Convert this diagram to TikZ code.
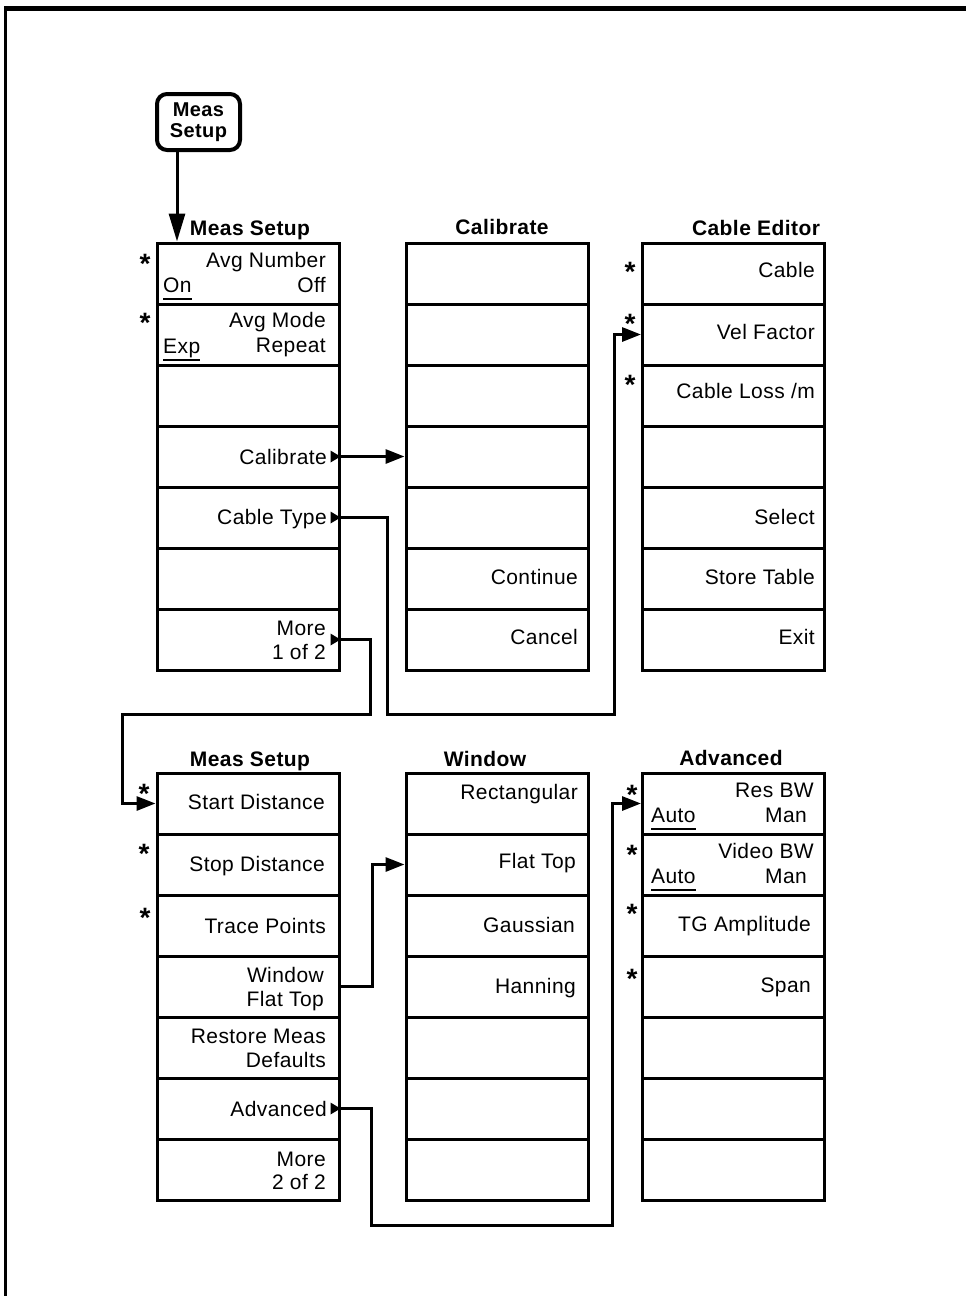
\documentclass[tikz,border=0pt]{standalone}
\usepackage{fontspec}
\setmainfont[LetterSpace=2]{Liberation Sans}
\usepackage{tikz}
\usetikzlibrary{arrows.meta, calc, positioning}
\def\keyWidth{182pt}
\def\keyHeight{61}

\begin{document}
\begin{tikzpicture}[x=1pt, y=-1pt,
    softkey/.style={draw, line width=3pt, minimum width=\keyWidth, minimum height=\keyHeight pt, inner sep=0pt},
    hardkey/.style={draw, line width=4pt, rounded corners=10pt, minimum width=83pt, minimum height=56pt,
        align=center, font=\bfseries\fontsize{20}{21}\selectfont},
    label/.style={inner sep=0pt, text height=15pt, text depth=0pt, font=\fontsize{21}{24}\selectfont},
    title/.style={label, font=\bfseries\fontsize{21}{24}\selectfont},
    starmark/.style={inner sep=0pt, anchor=base, yshift=-16pt, font=\bfseries\fontsize{28}{28}\selectfont},
    wire/.style={line width=3pt},
    link/.style={wire, -{Triangle[length=19pt, width=14pt]}},
    keylink/.style={wire, -{Triangle[length=28pt, width=16pt]}},
    uline/.style={line width=2pt}]

    \useasboundingbox (0,0) rectangle (966,1296);

    % Draw page frame
    \draw[line width=3.5pt] (5.5,1296) -- (5.5,6);
    \draw[line width=5pt] (4,8.5) -- (966,8.5);

    % Draw hardkey
    \node[hardkey] (measKey) at (198.5,122) {Meas\\Setup};

    % Draw softkey columns
    \foreach \col/\cx/\top in {ms/248/243, cal/497/243, ced/733.5/243, msb/248/773, win/497/773, adv/733.5/773} {
        \foreach \i in {1,...,7} {
            \node[softkey] (\col\i) at (\cx, {\top + \keyHeight*(\i - 0.5)}) {};
        }
    }

    % Draw menu titles
    \node[title] (msTitle) at (250,228) {Meas Setup};
    \node[title] (calTitle) at (502,227) {Calibrate};
    \node[title] (cedTitle) at (756,228) {Cable Editor};
    \node[title] (msbTitle) at (250,759) {Meas Setup};
    \node[title] (winTitle) at (485,759) {Window};
    \node[title] (advTitle) at (731,758) {Advanced};

    % Draw right aligned labels
    \foreach \x/\y/\txt [count=\n] in {
        326/260/Avg Number, 326/285/Off, 326/320/Avg Mode, 326/345/Repeat,
        327/457/Calibrate, 327/517/Cable Type, 326/628/More, 326/652/1 of 2,
        578/577/Continue, 578/637/Cancel,
        815/270/Cable, 815/332/Vel Factor, 815/391/{Cable Loss /m},
        815/517/Select, 815/577/Store Table, 815/637/Exit,
        325/802/Start Distance, 325/864/Stop Distance, 326/926/Trace Points,
        324/975/Window, 324/999/Flat Top, 326/1036/Restore Meas, 326/1060/Defaults,
        327/1109/Advanced, 326/1159/More, 326/1182/2 of 2,
        578/792/Rectangular, 576/861/Flat Top, 575/925/Gaussian, 576/986/Hanning,
        814/790/Res BW, 807/815/Man, 814/851/Video BW, 807/876/Man,
        811/924/TG Amplitude, 811/985/Span} {
        \node[label, anchor=east] (lbl\n) at (\x,\y) {\txt};
    }

    % Draw left aligned labels with underline
    \node[label, anchor=west] (onTxt) at (163,285) {On};
    \node[label, anchor=west] (expTxt) at (163,346) {Exp};
    \node[label, anchor=west] (autoRes) at (651,815) {Auto};
    \node[label, anchor=west] (autoVid) at (651,876) {Auto};
    \foreach \t in {onTxt, expTxt, autoRes, autoVid} {
        \draw[uline] ([yshift=-6pt]\t.south west) -- ([yshift=-6pt]\t.south east);
    }

    % Draw stars
    \foreach \x/\y [count=\n] in {145/257, 145/316, 630/265, 630/317, 630/378,
        144/787, 144/847, 145/911, 632/788, 632/848, 632/907, 632/972} {
        \node[starmark] (star\n) at (\x,\y) {*};
    }

    % Draw submenu pointers
    \foreach \k in {ms4, ms5, ms7, msb6} {
        \fill ([xshift=-10pt, yshift=6pt]\k.east) -- (\k.east) -- ([xshift=-10pt, yshift=-6pt]\k.east) -- cycle;
    }

    % Draw connectors
    \draw[keylink] ([xshift=-21.5pt]measKey.south) -- ([xshift=-71pt]ms1.north);
    \draw[link] (ms4.east) -- (cal4.west);
    \draw[link] (ms5.east) -| (387,714) -- (614,714) |- (ced2.west);
    \draw[link] (ms7.east) -| (370,714) -- (122,714) |- (msb1.west);
    \draw[link] (msb4.east) -- ++(32,0) |- (win2.west);
    \draw[link] (msb6.east) -| (371,1225) -- (612,1225) |- (adv1.west);

\end{tikzpicture}
\end{document}
